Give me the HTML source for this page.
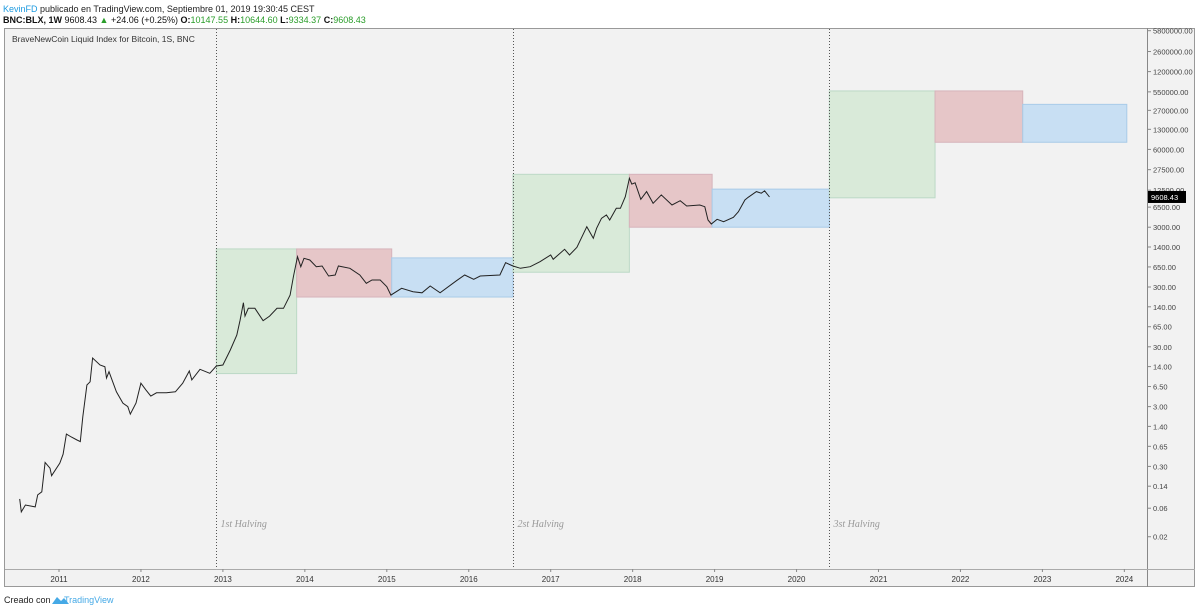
<!DOCTYPE html>
<html><head><meta charset="utf-8"><style>
body{margin:0;width:1200px;height:611px;background:#fff;overflow:hidden;font-family:"Liberation Sans",sans-serif}
</style></head><body>
<svg width="1200" height="611" xmlns="http://www.w3.org/2000/svg">
<text x="3" y="12" font-size="9" fill="#222"><tspan fill="#1e9be0">KevinFD</tspan> publicado en TradingView.com, Septiembre 01, 2019 19:30:45 CEST</text>
<text x="3" y="23" font-size="9" fill="#111"><tspan font-weight="bold">BNC:BLX, 1W</tspan> 9608.43 <tspan fill="#2a9d2a">▲</tspan> +24.06 (+0.25%) <tspan font-weight="bold">O:</tspan><tspan fill="#2a9d2a">10147.55</tspan> <tspan font-weight="bold">H:</tspan><tspan fill="#2a9d2a">10644.60</tspan> <tspan font-weight="bold">L:</tspan><tspan fill="#2a9d2a">9334.37</tspan> <tspan font-weight="bold">C:</tspan><tspan fill="#2a9d2a">9608.43</tspan></text>
<rect x="4.5" y="28.5" width="1190" height="558" fill="#f2f2f2" stroke="#999"/>
<line x1="1147.5" y1="28" x2="1147.5" y2="587" stroke="#888"/>
<line x1="5" y1="569.5" x2="1195" y2="569.5" stroke="#aaa"/>
<text x="12" y="42" font-size="8.5" fill="#333">BraveNewCoin Liquid Index for Bitcoin, 1S, BNC</text>
<g id="boxes"></g><g id="halv"></g><g id="line"></g><g id="yax"></g><g id="xax"></g>
<text x="4" y="603" font-size="9" fill="#222">Creado con</text>
<path d="M52 604 l5 -7 l4 4 l3 -3 l5 6 z" fill="#45a9e6"/>
<text x="64" y="603" font-size="9" fill="#45a9e6">TradingView</text>
</svg>
<script>
const years=[2011,2012,2013,2014,2015,2016,2017,2018,2019,2020,2021,2022,2023,2024];
const yTicks=[5800000,2600000,1200000,550000,270000,130000,60000,27500,12500,6500,3000,1400,650,300,140,65,30,14,6.5,3,1.4,0.65,0.30,0.14,0.06,0.02];
const halvingDates=[2012.92,2016.54,2020.40];
const halvingLabels=["1st Halving","2st Halving","3st Halving"];
const boxStart=[2012.92,2013.90,2015.06,2016.54,2017.96,2018.97,2020.40,2021.69,2022.76];
const boxEnd=[2013.90,2015.06,2016.54,2017.96,2018.97,2020.40,2021.69,2022.76,2024.03];
const boxLow=[10.7,204,204,530,3000,3000,9300,79000,79000];
const boxHigh=[1300,1300,920,23000,23000,13000,570000,570000,340000];
const boxKind=["green","red","blue","green","red","blue","green","red","blue"];
const lineT=[2010.52,2010.54,2010.59,2010.71,2010.74,2010.79,2010.83,2010.89,2010.91,2011.01,2011.05,2011.09,2011.15,2011.22,2011.26,2011.29,2011.34,2011.38,2011.41,2011.50,2011.56,2011.58,2011.61,2011.70,2011.78,2011.84,2011.87,2011.94,2012.00,2012.06,2012.12,2012.19,2012.31,2012.42,2012.51,2012.59,2012.62,2012.72,2012.84,2012.92,2013.00,2013.09,2013.17,2013.21,2013.25,2013.27,2013.31,2013.39,2013.49,2013.57,2013.66,2013.74,2013.82,2013.86,2013.91,2013.95,2013.99,2014.06,2014.14,2014.21,2014.29,2014.37,2014.41,2014.55,2014.67,2014.75,2014.82,2014.92,2015.00,2015.05,2015.18,2015.32,2015.43,2015.53,2015.65,2015.85,2015.95,2016.06,2016.14,2016.38,2016.45,2016.54,2016.63,2016.75,2016.87,2017.00,2017.03,2017.17,2017.23,2017.32,2017.44,2017.52,2017.56,2017.62,2017.68,2017.72,2017.80,2017.85,2017.91,2017.96,2017.99,2018.03,2018.10,2018.17,2018.25,2018.35,2018.48,2018.58,2018.66,2018.82,2018.88,2018.92,2018.96,2019.03,2019.11,2019.23,2019.29,2019.37,2019.41,2019.51,2019.57,2019.61,2019.67];
const lineV=[0.086,0.052,0.068,0.063,0.10,0.113,0.35,0.28,0.21,0.34,0.48,1.04,0.93,0.83,0.78,2.03,6.9,7.8,19.5,14.9,13.9,9.0,11.5,5.3,3.44,3.0,2.25,3.44,7.4,5.7,4.5,5.1,5.1,5.3,7.4,11.8,8.4,12.6,10.8,14.3,14.9,26.5,47,84,164,98,132,132,82,98,132,132,220,447,964,656,906,849,656,673,458,476,673,617,476,346,393,393,303,220,285,250,240,312,240,382,476,404,458,476,764,673,617,656,794,1028,871,1282,1028,1384,3055,1954,2875,4227,4800,3960,6210,6210,9700,19700,15800,16600,8790,11800,7530,10400,7050,8310,6790,7050,6600,3960,3400,4070,3710,4400,5450,8550,9490,11800,11100,12200,9608];
const lastPrice=9608.43;

const NS="http://www.w3.org/2000/svg";
const X=t=>59+81.95*(t-2011);
const Y=v=>247-59.8*Math.log10(v/1400);
function mk(tag,attrs,parent,text){const e=document.createElementNS(NS,tag);for(const k in attrs)e.setAttribute(k,attrs[k]);if(text!==undefined)e.textContent=text;document.getElementById(parent).appendChild(e);return e;}
const fills={green:["#d9ead9","#bcd9c6"],red:["#e6c6c8","#d6b3bb"],blue:["#c8dff3","#a9cbe8"]};
boxStart.forEach((s,i)=>{const f=fills[boxKind[i]];
 const r=mk('rect',{x:X(s),y:Y(boxHigh[i]),width:X(boxEnd[i])-X(s),height:Y(boxLow[i])-Y(boxHigh[i]),fill:f[0],stroke:f[1],'stroke-width':1},'boxes');
 
 });
halvingDates.forEach((d,i)=>{const x=Math.round(X(d))+0.5;
 const l=mk('line',{x1:x,y1:29,x2:x,y2:569,stroke:'#555','stroke-dasharray':'1,2'},'halv');
 
 
 const t=mk('text',{x:x+4,y:527,'font-size':10,'font-style':'italic','font-family':'Liberation Serif, serif',fill:'#999'},'halv',halvingLabels[i]);
 
 });
const pts=lineT.map((t,i)=>X(t).toFixed(1)+','+Y(lineV[i]).toFixed(1)).join(' ');
const pl=mk('polyline',{points:pts,fill:'none',stroke:'#222','stroke-width':1},'line');


yTicks.forEach(v=>{const y=Y(v);
 const tk=mk('line',{x1:1147,y1:y,x2:1151,y2:y,stroke:'#888'},'yax');
 
 
 const t=mk('text',{x:1153,y:y+3,'font-size':7.5,fill:'#444'},'yax',v.toFixed(2));
 
 });
const ly=Y(lastPrice);
const lb=mk('rect',{x:1148,y:ly-6,width:38,height:12,fill:'#000'},'yax');


const lt=mk('text',{x:1151,y:ly+3,'font-size':7.5,fill:'#fff'},'yax',lastPrice.toFixed(2));


years.forEach(yr=>{const x=X(yr);
 const tk=mk('line',{x1:x,y1:569,x2:x,y2:572,stroke:'#888'},'xax');
 
 
 const t=mk('text',{x:x,y:582,'font-size':8,fill:'#333','text-anchor':'middle'},'xax',String(yr));
 
 });
</script>
</body></html>
